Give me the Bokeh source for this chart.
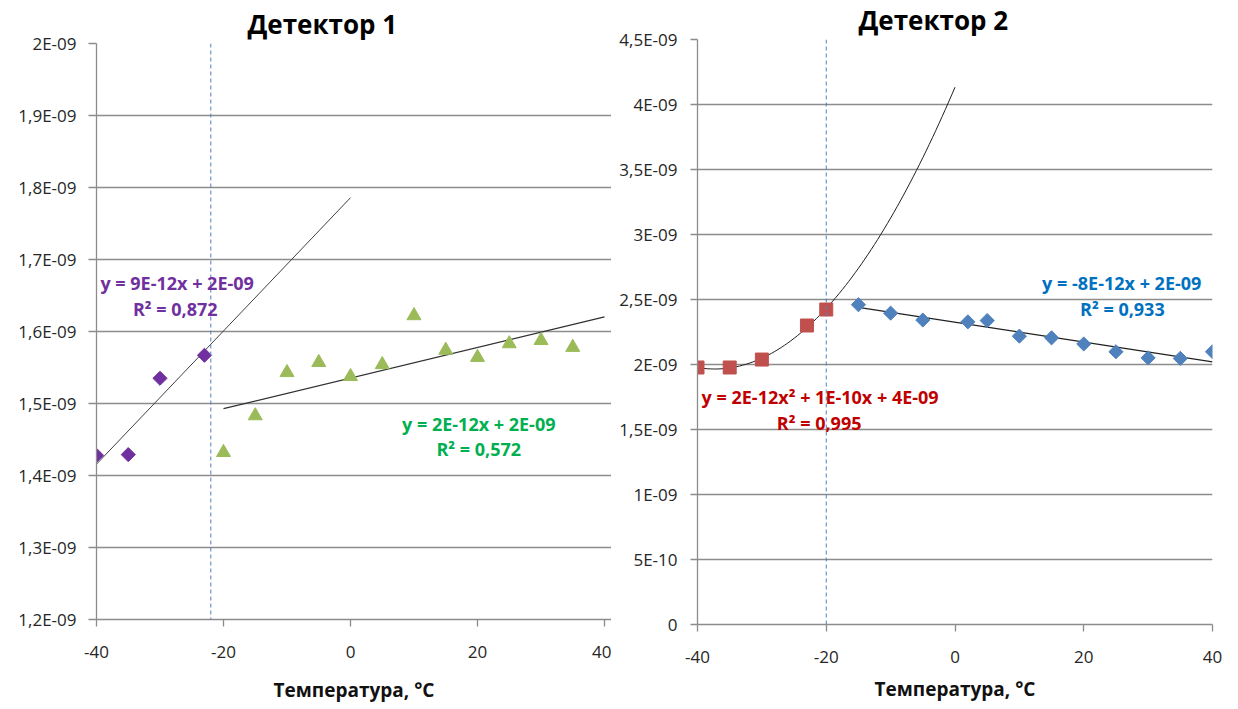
import numpy as np
from bokeh.plotting import figure
from bokeh.layouts import row, column
from bokeh.models import FixedTicker, CustomJSTickFormatter, Label, Range1d, Span
from bokeh.embed import file_html
from bokeh.resources import INLINE

# ---------------- data ----------------
# Detector 1
d1_low_t = [-40, -35, -30, -23]
d1_low_v = [1.428e-9, 1.429e-9, 1.535e-9, 1.567e-9]
d1_high_t = [-20, -15, -10, -5, 0, 5, 10, 15, 20, 25, 30, 35]
d1_high_v = [1.432e-9, 1.483e-9, 1.543e-9, 1.557e-9, 1.5375e-9, 1.554e-9,
             1.622e-9, 1.574e-9, 1.564e-9, 1.583e-9, 1.5875e-9, 1.578e-9]
# Detector 2
d2_low_t = [-40, -35, -30, -23, -20]
d2_low_v = [1.977e-9, 1.977e-9, 2.038e-9, 2.300e-9, 2.423e-9]
d2_high_t = [-15, -10, -5, 2, 5, 10, 15, 20, 25, 30, 35, 40]
d2_high_v = [2.460e-9, 2.395e-9, 2.342e-9, 2.328e-9, 2.338e-9, 2.218e-9,
             2.205e-9, 2.158e-9, 2.098e-9, 2.051e-9, 2.047e-9, 2.098e-9]

x_ticks = [-40, -20, 0, 20, 40]
y1_ticks = [1.2e-9, 1.3e-9, 1.4e-9, 1.5e-9, 1.6e-9, 1.7e-9, 1.8e-9, 1.9e-9, 2.0e-9]
y2_ticks = [0.0, 0.5e-9, 1.0e-9, 1.5e-9, 2.0e-9, 2.5e-9, 3.0e-9, 3.5e-9, 4.0e-9, 4.5e-9]

titles = ["Детектор 1", "Детектор 2"]
x_label = "Температура, °C"
eq_labels_1 = [("y = 9E-12x + 2E-09", "R² = 0,872"), ("y = 2E-12x + 2E-09", "R² = 0,572")]
eq_labels_2 = [("y = -8E-12x + 2E-09", "R² = 0,933"), ("y = 2E-12x² + 1E-10x + 4E-09", "R² = 0,995")]
marker_line_1 = -22
marker_line_2 = -20

FONT = "Open Sans"
GRID = "#8c8c8c"

yfmt = CustomJSTickFormatter(code="""
if (Math.abs(tick) < 1e-20) return "0";
let e = Math.floor(Math.log10(Math.abs(tick)) + 1e-9);
let m = Math.round(tick / Math.pow(10, e) * 10) / 10;
if (Math.abs(m) >= 10) { m = m / 10; e += 1; }
const s = String(m).replace(".", ",");
const es = (e < 0 ? "-" : "+") + String(Math.abs(e)).padStart(2, "0");
return s + "E" + es;
""")
xfmt = CustomJSTickFormatter(code="return tick.toFixed(0);")


def make_fig(title, x1, y0, y1, yt, width, height, bl, br, bt, bb, toff,
             ytick_out, ystand, xlab_stand):
    p = figure(width=width, height=height, x_range=Range1d(-40, x1), y_range=Range1d(y0, y1),
               output_backend="svg", toolbar_location=None,
               min_border_left=bl, min_border_right=br, min_border_top=bt, min_border_bottom=bb)
    p.outline_line_color = None
    p.title.text = title
    p.title.text_font = FONT
    p.title.text_font_size = "26px"
    p.title.text_font_style = "bold"
    p.title.align = "left"
    p.title.vertical_align = "top"
    p.title.offset = toff
    p.title.standoff = 0
    p.title.text_color = "#000000"
    p.xgrid.visible = False
    p.ygrid.grid_line_color = GRID
    p.ygrid.grid_line_width = 1.3
    p.xaxis.ticker = FixedTicker(ticks=x_ticks)
    p.yaxis.ticker = FixedTicker(ticks=yt)
    p.yaxis.formatter = yfmt
    p.xaxis.formatter = xfmt
    for ax in (p.xaxis[0], p.yaxis[0]):
        ax.axis_line_color = GRID
        ax.axis_line_width = 1.3
        ax.major_tick_line_color = GRID
        ax.major_tick_line_width = 1.3
        ax.major_tick_in = 0
        ax.minor_tick_out = 0
        ax.minor_tick_in = 0
        ax.major_label_text_font = FONT
        ax.major_label_text_font_size = "17px"
        ax.major_label_text_color = "#262626"
    p.yaxis.major_tick_out = ytick_out
    p.xaxis.major_tick_out = 7
    p.yaxis.major_label_standoff = ystand
    p.xaxis.major_label_standoff = 19
    p.xaxis.axis_label = x_label
    p.xaxis.axis_label_text_font = FONT
    p.xaxis.axis_label_text_font_size = "19px"
    p.xaxis.axis_label_text_font_style = "bold"
    p.xaxis.axis_label_text_color = "#111111"
    p.xaxis.axis_label_standoff = xlab_stand
    return p


def add_label(p, x, y, text, color):
    p.add_layout(Label(x=x, y=y, text=text, text_color=color, text_font=FONT,
                       text_font_size="18px", text_font_style="bold",
                       text_align="center", text_baseline="middle"))


def add_vline(p, x):
    p.add_layout(Span(location=x, dimension="height", line_color="#4F81BD",
                      line_dash="4 3", line_width=1))


# ---------- Detector 1 ----------
p1 = make_fig(titles[0], 41.1, y1_ticks[0], y1_ticks[-1], y1_ticks, 611, 709, 96, 0, 43, 90,
              151, 8, 12, 16)
add_vline(p1, marker_line_1)
c = np.polyfit(d1_low_t, d1_low_v, 1)
xs = np.array([-40.0, 0.0])
p1.line(xs, np.polyval(c, xs), line_color="#404040", line_width=1)
c = np.polyfit(d1_high_t, d1_high_v, 1)
xs = np.array([-20.0, 40.0])
p1.line(xs, np.polyval(c, xs), line_color="#303030", line_width=1.2)
p1.scatter(d1_low_t, d1_low_v, marker="square", angle=np.pi / 4, size=10, color="#7030A0")
p1.scatter(d1_high_t, d1_high_v, marker="triangle", size=14, color="#9BBB59")
add_label(p1, -27.3, 1.667e-9, eq_labels_1[0][0], "#7030A0")
add_label(p1, -27.6, 1.631e-9, eq_labels_1[0][1], "#7030A0")
add_label(p1, 20.2, 1.4713e-9, eq_labels_1[1][0], "#00B050")
add_label(p1, 20.2, 1.4366e-9, eq_labels_1[1][1], "#00B050")

# ---------- Detector 2 ----------
p2 = make_fig(titles[1], 40, y2_ticks[0], y2_ticks[-1], y2_ticks, 619, 709, 86, 18, 39, 85,
              161, 7, 13, 10)
add_vline(p2, marker_line_2)
c = np.polyfit(d2_low_t, d2_low_v, 2)
xs = np.linspace(-40, 0, 81)
p2.line(xs, np.polyval(c, xs), line_color="#202020", line_width=1)
c = np.polyfit(d2_high_t, d2_high_v, 1)
xs = np.array([-15.0, 40.0])
p2.line(xs, np.polyval(c, xs), line_color="#202020", line_width=1.2)
p2.scatter(d2_low_t, d2_low_v, marker="square", size=13, color="#C0504D")
p2.scatter(d2_high_t, d2_high_v, marker="square", angle=np.pi / 4, size=10, color="#4F81BD")
add_label(p2, 25.9, 2.625e-9, eq_labels_2[0][0], "#0070C0")
add_label(p2, 26.0, 2.425e-9, eq_labels_2[0][1], "#0070C0")
add_label(p2, -20.95, 1.751e-9, eq_labels_2[1][0], "#C00000")
add_label(p2, -21.1, 1.551e-9, eq_labels_2[1][1], "#C00000")

layout = row(column(p1), column(p2))
open("out.html", "w").write(file_html(layout, INLINE))
